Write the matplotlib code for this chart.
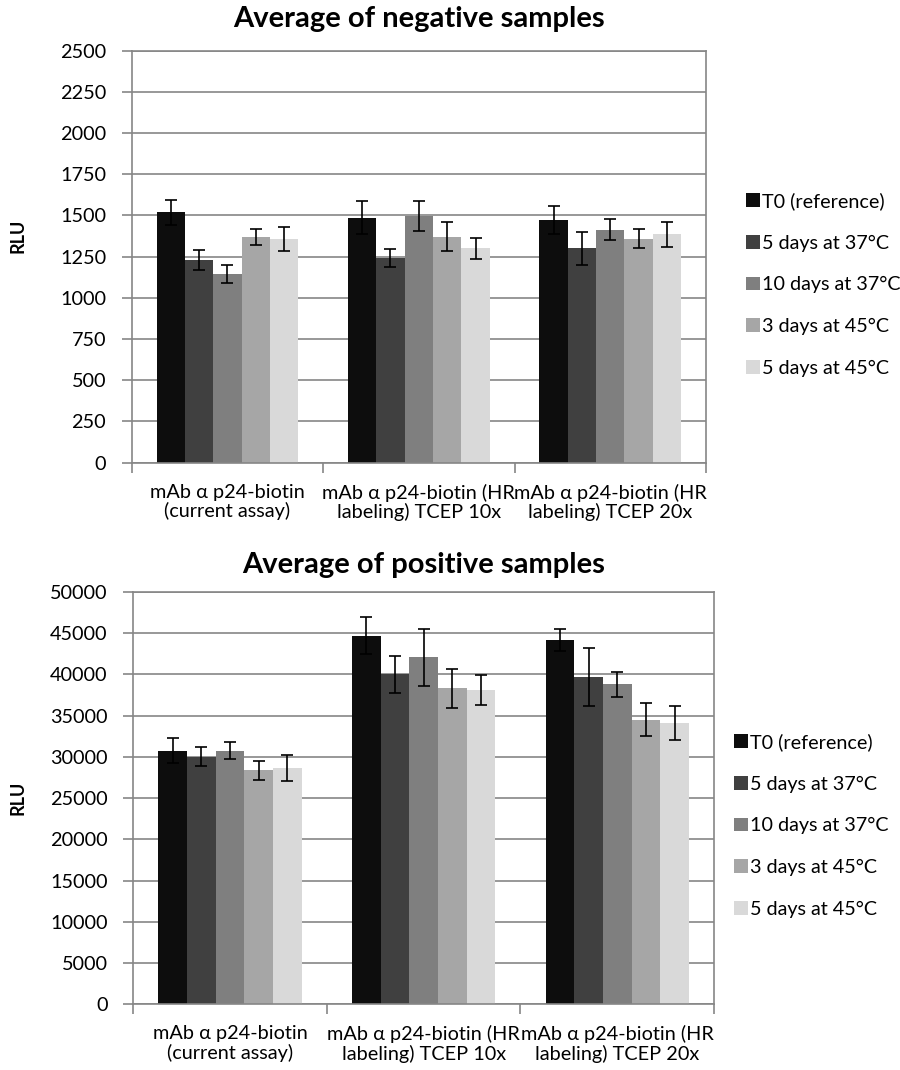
import numpy as np
import matplotlib
matplotlib.use("Agg")
import matplotlib.pyplot as plt

plt.rcParams['font.family'] = ['Lato', 'DejaVu Sans']

# Categories (antibody preparations)
categories = [
    "mAb \u03b1 p24-biotin\n(current assay)",
    "mAb \u03b1 p24-biotin (HR\nlabeling) TCEP 10x",
    "mAb \u03b1 p24-biotin (HR\nlabeling) TCEP 20x",
]

# Storage conditions
conditions = ["T0 (reference)", "5 days at 37\u00b0C", "10 days at 37\u00b0C",
              "3 days at 45\u00b0C", "5 days at 45\u00b0C"]
colors = ["#0d0d0d", "#404040", "#7f7f7f", "#a6a6a6", "#d9d9d9"]

# Negative samples: mean RLU and error per condition
neg_t0 = [1520, 1485, 1475]
neg_5d37 = [1230, 1240, 1300]
neg_10d37 = [1145, 1495, 1415]
neg_3d45 = [1370, 1370, 1360]
neg_5d45 = [1360, 1300, 1385]

neg_t0_err = [75, 100, 85]
neg_5d37_err = [60, 55, 100]
neg_10d37_err = [55, 90, 65]
neg_3d45_err = [50, 88, 60]
neg_5d45_err = [73, 65, 75]

# Positive samples: mean RLU and error per condition
pos_t0 = [30750, 44700, 44150]
pos_5d37 = [30050, 40000, 39700]
pos_10d37 = [30750, 42100, 38800]
pos_3d45 = [28400, 38300, 34500]
pos_5d45 = [28650, 38100, 34100]

pos_t0_err = [1530, 2240, 1310]
pos_5d37_err = [1210, 2240, 3530]
pos_10d37_err = [1000, 3450, 1540]
pos_3d45_err = [1150, 2360, 2020]
pos_5d45_err = [1530, 1860, 2040]

neg_yticks = list(range(0, 2501, 250))
pos_yticks = list(range(0, 50001, 5000))

W, H = 900, 1070
fig = plt.figure(figsize=(W / 100, H / 100), dpi=100)

GRID = "#868686"
FS = 14.3
LEG_FS = 14.2


def px_rect(left, top, right, bottom):
    return [left / W, 1 - bottom / H, (right - left) / W, (bottom - top) / H]


def draw_panel(ax, means, errs, yticks, title, title_y, rlu_y, leg_left, leg_top):
    n = len(conditions)
    x = np.arange(len(categories))
    width = 1 / (n + 1.75)
    handles = []
    for i, (m, e) in enumerate(zip(means, errs)):
        pos = x + (i - (n - 1) / 2) * width
        bars = ax.bar(pos, m, width=width, color=colors[i], zorder=2,
                      label=conditions[i], linewidth=0)
        ax.errorbar(pos, m, yerr=e, fmt="none", ecolor="black",
                    elinewidth=1.2, capsize=4.3, capthick=1.2, zorder=3)
        handles.append(bars)
    ax.set_xlim(-0.5, len(categories) - 0.5)
    ax.set_ylim(yticks[0], yticks[-1])
    ax.set_yticks(yticks)
    ax.set_yticklabels([str(v) for v in yticks], fontsize=FS)
    ax.set_xticks(x)
    ax.set_xticklabels(categories, fontsize=FS, linespacing=1.12)
    ax.set_xticks(np.arange(len(categories) + 1) - 0.5, minor=True)
    ax.tick_params(axis="x", which="major", length=0, pad=15)
    ax.tick_params(axis="x", which="minor", length=7, width=1.2, color=GRID)
    ax.tick_params(axis="y", length=7, width=1.2, color=GRID, pad=11.5)
    ax.yaxis.grid(True, color=GRID, linewidth=1.2, zorder=0)
    ax.set_axisbelow(True)
    for s in ax.spines.values():
        s.set_color(GRID)
        s.set_linewidth(1.2)
    cx = (ax.get_position().x0 + ax.get_position().x1) / 2
    fig.text(cx, 1 - title_y / H, title, ha="center", va="center",
             fontsize=21, fontweight="bold")
    fig.text(18 / W, 1 - rlu_y / H, "RLU", rotation=90, ha="center",
             va="center", fontsize=13, fontweight="bold")
    fig.legend(handles=handles, labels=conditions, loc="upper left",
               bbox_to_anchor=(leg_left / W, 1 - leg_top / H),
               frameon=False, fontsize=LEG_FS, handlelength=0.7,
               handleheight=0.7, handletextpad=0.12, labelspacing=1.25,
               borderpad=0, borderaxespad=0)


ax1 = fig.add_axes(px_rect(131.7, 50.7, 706, 462.7))
draw_panel(ax1,
           [neg_t0, neg_5d37, neg_10d37, neg_3d45, neg_5d45],
           [neg_t0_err, neg_5d37_err, neg_10d37_err, neg_3d45_err, neg_5d45_err],
           neg_yticks, "Average of negative samples", 19, 236, 746, 192)

ax2 = fig.add_axes(px_rect(133.3, 592, 714, 1004.3))
draw_panel(ax2,
           [pos_t0, pos_5d37, pos_10d37, pos_3d45, pos_5d45],
           [pos_t0_err, pos_5d37_err, pos_10d37_err, pos_3d45_err, pos_5d45_err],
           pos_yticks, "Average of positive samples", 565, 798, 734, 733)

fig.savefig("out.png", dpi=100)
